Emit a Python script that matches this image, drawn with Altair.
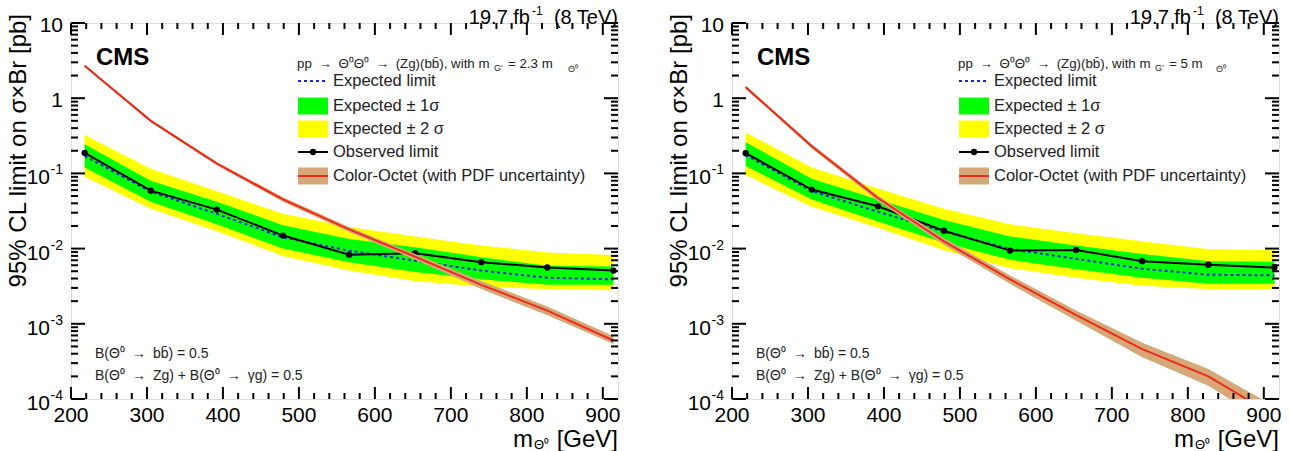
import altair as alt
import pandas as pd

# Theta0 mass points [GeV]
mass = [218, 305, 392, 479, 566, 653, 740, 827, 914]

# m_G' = 2.3 m_Theta0
obs_a = [0.187, 0.059, 0.033, 0.0149, 0.0083, 0.0087, 0.0066, 0.0056, 0.0051]
exp_a = [0.170, 0.057, 0.029, 0.0141, 0.0094, 0.0069, 0.0051, 0.0041, 0.0039]
g_lo_a = [0.120, 0.042, 0.021, 0.0100, 0.0066, 0.0049, 0.0039, 0.0033, 0.0033]
g_hi_a = [0.245, 0.080, 0.042, 0.0205, 0.0134, 0.0104, 0.0077, 0.0059, 0.0058]
y_lo_a = [0.090, 0.034, 0.017, 0.0080, 0.0051, 0.0037, 0.0031, 0.0029, 0.0028]
y_hi_a = [0.325, 0.115, 0.058, 0.0290, 0.0194, 0.0145, 0.0110, 0.0089, 0.0082]
oct_a = [2.7, 0.50, 0.135, 0.045, 0.018, 0.0078, 0.0033, 0.0015, 0.0006]
oct_lo_a = [2.6, 0.48, 0.128, 0.042, 0.0166, 0.0071, 0.0029, 0.0013, 0.00054]
oct_hi_a = [2.8, 0.52, 0.142, 0.048, 0.0194, 0.0085, 0.0037, 0.0017, 0.00069]

# m_G' = 5 m_Theta0
obs_b = [0.186, 0.061, 0.0365, 0.0173, 0.0094, 0.0096, 0.0068, 0.0061, 0.0056]
exp_b = [0.175, 0.058, 0.031, 0.0168, 0.0099, 0.0073, 0.0054, 0.0045, 0.0044]
g_lo_b = [0.125, 0.045, 0.023, 0.0120, 0.0071, 0.0053, 0.0041, 0.0034, 0.0034]
g_hi_b = [0.260, 0.085, 0.045, 0.0240, 0.0145, 0.0110, 0.0085, 0.0068, 0.0067]
y_lo_b = [0.095, 0.036, 0.019, 0.0095, 0.0055, 0.0041, 0.0032, 0.0029, 0.0029]
y_hi_b = [0.350, 0.120, 0.063, 0.0340, 0.0210, 0.0160, 0.0125, 0.0098, 0.0095]
oct_b = [1.4, 0.23, 0.047, 0.0125, 0.0039, 0.0013, 0.00046, 0.00020, 0.00006]
oct_lo_b = [1.33, 0.215, 0.043, 0.0112, 0.0034, 0.00110, 0.00036, 0.00015, 0.000042]
oct_hi_b = [1.47, 0.245, 0.051, 0.0138, 0.0044, 0.00150, 0.00056, 0.00025, 0.000080]

# axis ticks and labels
x_major = [200, 300, 400, 500, 600, 700, 800, 900]
x_ticks = list(range(200, 920, 20))
y_major = [10, 1, 0.1, 0.01, 0.001, 0.0001]
y_base = ["10", "1", "10", "10", "10", "10"]
y_exp = ["", "", "-1", "-2", "-3", "-4"]
y_ticks = [m * d for d in (1e-4, 1e-3, 1e-2, 1e-1, 1) for m in range(1, 10)] + [10]

W, H = 547, 376
X_MIN, X_MAX = 200, 920
Y_MIN, Y_MAX = 1e-4, 10
FONT = "Liberation Sans"
XS = alt.Scale(domain=[X_MIN, X_MAX], nice=False, zero=False)
YS = alt.Scale(type="log", domain=[Y_MIN, Y_MAX], nice=False)
PX_DEC = H / 5.0               # pixels per decade
PX_GEV = W / (X_MAX - X_MIN)   # pixels per GeV

C_YEL = "#ffff00"
C_GRN = "#00ff00"
C_EXP = "#1a22e0"
C_RED = "#ee2a1a"
C_TAN = "#d6a878"
C_TXT = "#222222"
SP = "\u2002"  # wider gap around arrows


def X(f):
    return alt.X(f, type="quantitative", scale=XS, axis=None)


def Y(f):
    return alt.Y(f, type="quantitative", scale=YS, axis=None)


ONE = pd.DataFrame({"a": [0]})


def text(t, x, y, size, **kw):
    kw.setdefault("color", C_TXT)
    kw.setdefault("font", FONT)
    kw.setdefault("align", "left")
    return alt.Chart(ONE).mark_text(text=t, fontSize=size, **kw).encode(
        x=alt.value(x), y=alt.value(y)
    )


def frame_ticks():
    # inward ticks on all four sides, as segments in data space
    xt = alt.Chart(pd.DataFrame({"v": x_ticks})).transform_calculate(
        L="datum.v % 100 === 0 ? 12 : 6")
    yt = alt.Chart(pd.DataFrame({"v": y_ticks})).transform_calculate(
        L="abs(log(datum.v) / LN10 - round(log(datum.v) / LN10)) < 1e-6 ? 14 : 7")
    rk = dict(color="black", strokeWidth=2)
    bottom = xt.transform_calculate(
        a=f"{Y_MIN}", b=f"{Y_MIN} * pow(10, datum.L / {PX_DEC})"
    ).mark_rule(**rk).encode(x=X("v"), y=Y("a"), y2="b:Q")
    top = xt.transform_calculate(
        a=f"{Y_MAX} / pow(10, datum.L / {PX_DEC})", b=f"{Y_MAX}"
    ).mark_rule(**rk).encode(x=X("v"), y=Y("a"), y2="b:Q")
    left = yt.transform_calculate(
        a=f"{X_MIN}", b=f"{X_MIN} + datum.L / {PX_GEV}"
    ).mark_rule(**rk).encode(y=Y("v"), x=X("a"), x2="b:Q")
    right = yt.transform_calculate(
        a=f"{X_MAX} - datum.L / {PX_GEV}", b=f"{X_MAX}"
    ).mark_rule(**rk).encode(y=Y("v"), x=X("a"), x2="b:Q")
    return [bottom, top, left, right]


def axis_labels():
    xl = pd.DataFrame({"v": x_major, "t": [str(v) for v in x_major]})
    yl = pd.DataFrame({"v": y_major, "b": y_base, "e": y_exp})
    plain = yl[yl["e"] == ""]
    powered = yl[yl["e"] != ""]
    lk = dict(font=FONT, color="black")
    return [
        alt.Chart(xl).mark_text(align="center", baseline="alphabetic", fontSize=21, **lk).encode(
            x=X("v"), y=alt.value(H + 23), text="t:N"),
        alt.Chart(plain).mark_text(align="right", baseline="middle", dy=3, fontSize=21, **lk).encode(
            x=alt.value(-8), y=Y("v"), text="b:N"),
        alt.Chart(powered).mark_text(align="right", baseline="middle", dy=5, fontSize=21, **lk).encode(
            x=alt.value(-21), y=Y("v"), text="b:N"),
        alt.Chart(powered).mark_text(align="right", baseline="middle", dy=-3, fontSize=14, **lk).encode(
            x=alt.value(-8), y=Y("v"), text="e:N"),
        # axis titles
        text("95% CL limit on σ×Br [pb]", -52, -9, 24, angle=270, align="right",
             baseline="middle", color="black"),
        text("[GeV]", W, H + 41, 24, align="right", color="black"),
        text("Θ⁰", 478, H + 46, 13, align="right", color="black"),
        text("m", 462, H + 41, 24, align="right", color="black"),
        # luminosity label
        text("(8 TeV)", W, -5, 20, align="right", color="black"),
        text("-1", 461, -12, 12, color="black"),
        text("19.7 fb", 459, -5, 20, align="right", color="black"),
    ]


def legend(ratio, sub_x, eq_x, tsub_x):
    rows = [58, 83, 106, 129, 153]
    x0, x1 = 227, 257
    names = ["Expected limit", "Expected ± 1σ", "Expected ± 2 σ", "Observed limit",
             "Color-Octet (with PDF uncertainty)"]
    items = [
        text(f"pp{SP}→{SP}Θ⁰Θ⁰{SP}→{SP}(Zg)(bb̄), with m", 226, 41, 13.3),
        text("G'", sub_x, 45, 9),
        text(f"= {ratio} m", eq_x, 41, 13.3),
        text("Θ⁰", tsub_x, 46, 9),
        alt.Chart(ONE).mark_rule(color=C_EXP, strokeWidth=2, strokeDash=[3, 3]).encode(
            x=alt.value(x0), x2=alt.value(x1), y=alt.value(rows[0])),
        alt.Chart(ONE).mark_rect(color=C_GRN).encode(
            x=alt.value(x0), x2=alt.value(x1), y=alt.value(rows[1] - 8.5), y2=alt.value(rows[1] + 8.5)),
        alt.Chart(ONE).mark_rect(color=C_YEL).encode(
            x=alt.value(x0), x2=alt.value(x1), y=alt.value(rows[2] - 8.5), y2=alt.value(rows[2] + 8.5)),
        alt.Chart(ONE).mark_rule(color="black", strokeWidth=2).encode(
            x=alt.value(x0), x2=alt.value(x1), y=alt.value(rows[3])),
        alt.Chart(ONE).mark_point(filled=True, color="black", size=40, opacity=1).encode(
            x=alt.value((x0 + x1) / 2), y=alt.value(rows[3])),
        alt.Chart(ONE).mark_rect(color=C_TAN).encode(
            x=alt.value(x0), x2=alt.value(x1), y=alt.value(rows[4] - 8.5), y2=alt.value(rows[4] + 8.5)),
        alt.Chart(ONE).mark_rule(color=C_RED, strokeWidth=2).encode(
            x=alt.value(x0), x2=alt.value(x1), y=alt.value(rows[4])),
    ]
    for r, n in zip(rows, names):
        items.append(text(n, 262, r, 16.5, baseline="middle"))
    return items


def panel(obs, exp, g_lo, g_hi, y_lo, y_hi, oc, oc_lo, oc_hi, ratio, sub_x, eq_x, tsub_x):
    df = pd.DataFrame({
        "m": mass, "obs": obs, "exp": exp, "glo": g_lo, "ghi": g_hi,
        "ylo": y_lo, "yhi": y_hi, "oc": oc, "oclo": oc_lo, "ochi": oc_hi,
    })
    base = alt.Chart(df)
    layers = [
        base.mark_area(color=C_YEL, clip=True).encode(x=X("m"), y=Y("ylo"), y2="yhi:Q"),
        base.mark_area(color=C_GRN, clip=True).encode(x=X("m"), y=Y("glo"), y2="ghi:Q"),
        base.mark_line(color=C_EXP, strokeWidth=2, strokeDash=[3, 3], clip=True).encode(
            x=X("m"), y=Y("exp")),
        base.mark_line(color="black", strokeWidth=2, clip=True).encode(x=X("m"), y=Y("obs")),
        base.mark_point(filled=True, color="black", size=40, opacity=1, clip=True).encode(
            x=X("m"), y=Y("obs")),
        base.mark_area(color=C_TAN, clip=True).encode(x=X("m"), y=Y("oclo"), y2="ochi:Q"),
        base.mark_line(color=C_RED, strokeWidth=2, clip=True).encode(x=X("m"), y=Y("oc")),
    ]
    layers += frame_ticks()
    layers += axis_labels()
    layers += [
        text("CMS", 25, 35, 24, fontWeight="bold", color="black"),
        text(f"B(Θ⁰{SP}→{SP}bb̄) = 0.5", 24, 331, 14),
        text(f"B(Θ⁰{SP}→{SP}Zg) + B(Θ⁰{SP}→{SP}γg) = 0.5", 24, 353, 14),
    ]
    layers += legend(ratio, sub_x, eq_x, tsub_x)
    return alt.layer(*layers).properties(width=W, height=H)


left = panel(obs_a, exp_a, g_lo_a, g_hi_a, y_lo_a, y_hi_a, oct_a, oct_lo_a, oct_hi_a,
             "2.3", 423, 437, 497)
right = panel(obs_b, exp_b, g_lo_b, g_hi_b, y_lo_b, y_hi_b, oct_b, oct_lo_b, oct_hi_b,
              "5", 423, 437, 484)

chart = alt.hconcat(left, right, spacing=114, bounds="flush").properties(
    padding={"left": 6, "top": 4, "right": 5, "bottom": 5}
).configure_view(stroke="black", strokeWidth=2).configure(background="white")

chart.save("out.html", embed_options={"renderer": "svg", "actions": False})
